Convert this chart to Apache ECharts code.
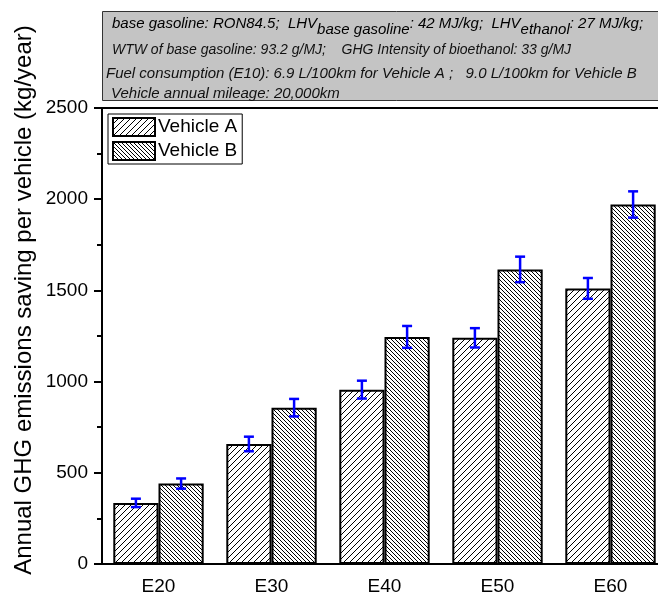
<!DOCTYPE html>
<html>
<head>
<meta charset="utf-8">
<script src="https://cdn.jsdelivr.net/npm/echarts@6/dist/echarts.min.js"></script>
<style>html,body{margin:0;padding:0;background:#fff;overflow:hidden;width:658px;height:597px;}#c{width:690px;height:597px;}</style>
</head>
<body>
<div id="c"></div>
<script>
const categories = ['E20', 'E30', 'E40', 'E50', 'E60'];
const vehicleA = [335, 658, 956, 1240, 1511];
const vehicleB = [441, 857, 1245, 1615, 1971];
const errA = [23, 40, 49, 53, 57];
const errB = [28, 48, 60, 70, 72];
const yTicks = [0, 500, 1000, 1500, 2000, 2500];
const yTitle = 'Annual GHG emissions saving per vehicle (kg/year)';
const seriesNames = ['Vehicle A', 'Vehicle B'];

const FONT = '"Liberation Sans", Arial, sans-serif';

function hatch(period, dir, lw) {
  const c = document.createElement('canvas');
  c.width = period; c.height = period;
  const g = c.getContext('2d');
  g.fillStyle = '#fff'; g.fillRect(0, 0, period, period);
  g.strokeStyle = '#000'; g.lineWidth = lw;
  g.beginPath();
  for (let k = -1; k <= 1; k++) {
    if (dir > 0) {
      g.moveTo(k * period - 1, period + 1);
      g.lineTo(k * period + period + 1, -1);
    } else {
      g.moveTo(k * period - 1, -1);
      g.lineTo(k * period + period + 1, period + 1);
    }
  }
  g.stroke();
  return { image: c, repeat: 'repeat' };
}
const patA = hatch(6, 1, 1);
const patB = hatch(4, -1, 1);

const chart = echarts.init(document.getElementById('c'), null, { renderer: 'canvas' });

function errSeries(vals, errs, off) {
  return {
    type: 'custom',
    z: 10,
    silent: true,
    clip: false,
    data: vals.map((v, i) => [i, v, errs[i]]),
    renderItem: function (params, api) {
      const i = api.value(0), v = api.value(1), e = api.value(2);
      const bw = api.size([1, 0])[0];
      const cx = api.coord([i, v])[0] + off * bw;
      const yt = api.coord([i, v + e])[1];
      const yb = api.coord([i, v - e])[1];
      const cw = 5;
      const st = { stroke: '#0000ff', lineWidth: 2.5 };
      return {
        type: 'group',
        children: [
          { type: 'line', shape: { x1: cx, y1: yt, x2: cx, y2: yb }, style: st },
          { type: 'line', shape: { x1: cx - cw, y1: yt, x2: cx + cw, y2: yt }, style: st },
          { type: 'line', shape: { x1: cx - cw, y1: yb, x2: cx + cw, y2: yb }, style: st }
        ]
      };
    }
  };
}

const FS = 15;
const rich = {
  n: { fontSize: FS, fontStyle: 'italic', fontFamily: FONT, color: '#111', verticalAlign: 'top', lineHeight: 17 },
  s: { fontSize: FS, fontStyle: 'italic', fontFamily: FONT, color: '#111', verticalAlign: 'top', lineHeight: 17, padding: [6, 0, 0, 0] }
};
const txt = { fontSize: FS, fontStyle: 'italic', fontFamily: FONT, fill: '#111' };

const option = {
  animation: false,
  backgroundColor: '#fff',
  grid: { left: 102, right: 23, top: 108, bottom: 33, show: true, borderColor: '#000', borderWidth: 2, backgroundColor: 'transparent' },
  legend: {
    data: seriesNames,
    icon: 'rect',
    orient: 'vertical',
    left: 108, top: 114,
    itemWidth: 42, itemHeight: 18, itemGap: 4,
    padding: [3, 5, 3, 4],
    borderColor: '#000', borderWidth: 1,
    textStyle: { fontSize: 19, fontFamily: FONT, color: '#000', padding: [0, 0, 0, -2] },
    itemStyle: { borderColor: '#000', borderWidth: 2 }
  },
  xAxis: [
    {
      type: 'category', data: categories, gridIndex: 0,
      axisLine: { lineStyle: { color: '#000', width: 2 } },
      axisTick: { alignWithLabel: true, length: 8, lineStyle: { color: '#000', width: 2 } },
      axisLabel: { fontSize: 19, fontFamily: FONT, color: '#000', margin: 13 }
    },
    {
      type: 'category', data: categories, gridIndex: 0, position: 'bottom',
      axisLine: { show: false },
      axisTick: { length: 5, lineStyle: { color: '#000', width: 2 } },
      axisLabel: { show: false }
    }
  ],
  yAxis: {
    type: 'value', min: yTicks[0], max: yTicks[yTicks.length - 1], interval: 500,
    axisLine: { show: true, lineStyle: { color: '#000', width: 2 } },
    axisTick: { show: true, length: 8, lineStyle: { color: '#000', width: 2 } },
    minorTick: { show: true, splitNumber: 2, length: 5, lineStyle: { color: '#000', width: 2 } },
    splitLine: { show: false },
    axisLabel: { fontSize: 19, fontFamily: FONT, color: '#000', margin: 14, formatter: function (v) { return String(v); } }
  },
  series: [
    {
      name: seriesNames[0], type: 'bar', data: vehicleA, barWidth: '40%', barGap: '0%',
      itemStyle: { color: patA, borderColor: '#000', borderWidth: 2 }
    },
    {
      name: seriesNames[1], type: 'bar', data: vehicleB, barWidth: '40%', barGap: '0%',
      itemStyle: { color: patB, borderColor: '#000', borderWidth: 2 }
    },
    errSeries(vehicleA, errA, -0.2),
    errSeries(vehicleB, errB, 0.2)
  ],
  graphic: [
    { type: 'rect', z: 1, shape: { x: 102.5, y: 11.5, width: 700, height: 89 }, style: { fill: '#c4c4c4', stroke: '#333', lineWidth: 1 } },
    { type: 'text', z: 2, x: 112, y: 16, style: { text: '{n|base gasoline: RON84.5;  LHV}{s|base gasoline}{n|: 42 MJ/kg;  LHV}{s|ethanol}{n|: 27 MJ/kg;}', rich: rich } },
    { type: 'text', z: 2, x: 112, y: 50, style: Object.assign({}, txt, { fontSize: 14, text: 'WTW of base gasoline: 93.2 g/MJ;    GHG Intensity of bioethanol: 33 g/MJ', textVerticalAlign: 'middle' }) },
    { type: 'text', z: 2, x: 106, y: 74, style: Object.assign({ text: 'Fuel consumption (E10): 6.9 L/100km for Vehicle A ;   9.0 L/100km for Vehicle B', textVerticalAlign: 'middle' }, txt) },
    { type: 'text', z: 2, x: 111, y: 94, style: Object.assign({ text: 'Vehicle annual mileage: 20,000km', textVerticalAlign: 'middle' }, txt) },
    { type: 'text', z: 2, x: 24, y: 300, rotation: Math.PI / 2, style: { text: yTitle, font: '24px ' + FONT, fill: '#000', textAlign: 'center', textVerticalAlign: 'middle' } }
  ]
};
chart.setOption(option);
</script>
</body>
</html>
